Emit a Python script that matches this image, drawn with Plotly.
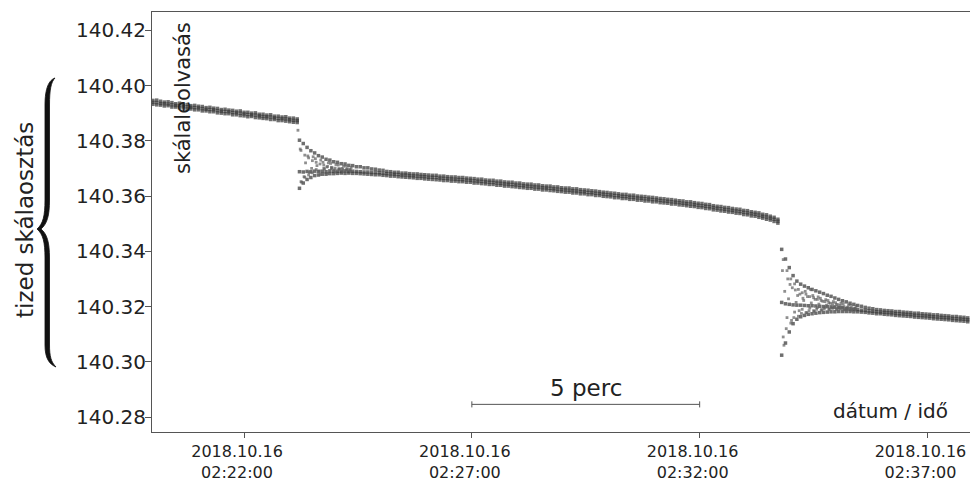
import plotly.graph_objects as go
import pandas as pd

# ---------------- data ----------------
seg1_start = "2018-10-16 02:20:00"
seg1_hi = [140.3946, 140.3947, 140.3943, 140.3940, 140.3941, 140.3938, 140.3934, 140.3936, 140.3932, 140.3931,
           140.3927, 140.3928, 140.3925, 140.3924, 140.3920, 140.3921, 140.3918, 140.3917, 140.3913, 140.3914,
           140.3911, 140.3910, 140.3907, 140.3908, 140.3903, 140.3903, 140.3900, 140.3901, 140.3896, 140.3896,
           140.3893, 140.3894, 140.3889, 140.3889, 140.3886, 140.3887, 140.3882, 140.3882, 140.3879]
seg1_mid = [140.3939, 140.3938, 140.3935, 140.3934, 140.3933, 140.3930, 140.3928, 140.3927, 140.3926, 140.3923,
            140.3921, 140.3920, 140.3919, 140.3916, 140.3914, 140.3913, 140.3912, 140.3909, 140.3907, 140.3906,
            140.3905, 140.3902, 140.3901, 140.3900, 140.3897, 140.3895, 140.3894, 140.3893, 140.3890, 140.3888,
            140.3887, 140.3886, 140.3883, 140.3881, 140.3880, 140.3879, 140.3876, 140.3874, 140.3873]
seg1_lo = [140.3932, 140.3930, 140.3929, 140.3926, 140.3927, 140.3922, 140.3922, 140.3919, 140.3919, 140.3915,
           140.3915, 140.3912, 140.3912, 140.3908, 140.3908, 140.3905, 140.3905, 140.3901, 140.3900, 140.3898,
           140.3898, 140.3894, 140.3894, 140.3891, 140.3890, 140.3887, 140.3888, 140.3884, 140.3883, 140.3881,
           140.3880, 140.3877, 140.3877, 140.3873, 140.3873, 140.3871, 140.3869, 140.3867, 140.3866]

seg2_start = "2018-10-16 02:23:13"
seg2_hi = [140.3802, 140.3790, 140.3776, 140.3764, 140.3756, 140.3746, 140.3741, 140.3733, 140.3730, 140.3724,
           140.3722, 140.3717, 140.3716, 140.3711, 140.3710, 140.3706, 140.3706, 140.3702, 140.3702, 140.3698,
           140.3697, 140.3694, 140.3693, 140.3689, 140.3688, 140.3686, 140.3686, 140.3683, 140.3683, 140.3681,
           140.3680, 140.3680, 140.3678, 140.3677, 140.3676, 140.3675, 140.3675, 140.3672, 140.3672, 140.3670,
           140.3669, 140.3669, 140.3667, 140.3667, 140.3665, 140.3664, 140.3663, 140.3661, 140.3661, 140.3658,
           140.3657, 140.3657, 140.3654, 140.3654, 140.3651, 140.3650, 140.3650, 140.3647, 140.3647, 140.3644,
           140.3643, 140.3643, 140.3640, 140.3640, 140.3637, 140.3636, 140.3636, 140.3633, 140.3633, 140.3630,
           140.3629, 140.3629, 140.3626, 140.3626, 140.3623, 140.3622, 140.3621, 140.3619, 140.3618, 140.3616,
           140.3614, 140.3613, 140.3611, 140.3610, 140.3608, 140.3606, 140.3606, 140.3603, 140.3603, 140.3600,
           140.3599, 140.3598, 140.3596, 140.3595, 140.3593, 140.3591, 140.3590, 140.3588, 140.3587, 140.3585,
           140.3583, 140.3582, 140.3579, 140.3579, 140.3576, 140.3574, 140.3573, 140.3570, 140.3569, 140.3565,
           140.3563, 140.3562, 140.3559, 140.3558, 140.3555, 140.3553, 140.3552, 140.3548, 140.3547, 140.3543,
           140.3541, 140.3539, 140.3534, 140.3532, 140.3527, 140.3523, 140.3516]
seg2_mid = [140.3688, 140.3687, 140.3689, 140.3688, 140.3690, 140.3689, 140.3690, 140.3688, 140.3691, 140.3690,
            140.3690, 140.3689, 140.3691, 140.3689, 140.3690, 140.3689, 140.3688, 140.3687, 140.3687, 140.3685,
            140.3685, 140.3684, 140.3682, 140.3681, 140.3680, 140.3679, 140.3678, 140.3676, 140.3676, 140.3674,
            140.3673, 140.3672, 140.3671, 140.3670, 140.3668, 140.3668, 140.3667, 140.3665, 140.3664, 140.3663,
            140.3662, 140.3661, 140.3660, 140.3659, 140.3658, 140.3657, 140.3655, 140.3654, 140.3653, 140.3651,
            140.3650, 140.3649, 140.3647, 140.3646, 140.3644, 140.3643, 140.3642, 140.3640, 140.3639, 140.3637,
            140.3636, 140.3635, 140.3633, 140.3632, 140.3630, 140.3629, 140.3628, 140.3626, 140.3625, 140.3623,
            140.3622, 140.3621, 140.3619, 140.3618, 140.3616, 140.3615, 140.3613, 140.3612, 140.3610, 140.3609,
            140.3607, 140.3605, 140.3604, 140.3602, 140.3601, 140.3599, 140.3598, 140.3596, 140.3595, 140.3593,
            140.3592, 140.3590, 140.3589, 140.3587, 140.3586, 140.3584, 140.3582, 140.3581, 140.3579, 140.3578,
            140.3576, 140.3574, 140.3572, 140.3571, 140.3569, 140.3567, 140.3565, 140.3563, 140.3561, 140.3558,
            140.3556, 140.3554, 140.3552, 140.3550, 140.3548, 140.3546, 140.3544, 140.3541, 140.3539, 140.3536,
            140.3534, 140.3531, 140.3527, 140.3524, 140.3520, 140.3516, 140.3509]
seg2_lo = [140.3628, 140.3647, 140.3660, 140.3667, 140.3674, 140.3676, 140.3679, 140.3679, 140.3681, 140.3681,
           140.3682, 140.3683, 140.3682, 140.3683, 140.3682, 140.3682, 140.3681, 140.3680, 140.3679, 140.3678,
           140.3677, 140.3677, 140.3675, 140.3674, 140.3672, 140.3672, 140.3670, 140.3669, 140.3668, 140.3667,
           140.3666, 140.3664, 140.3664, 140.3662, 140.3661, 140.3660, 140.3659, 140.3658, 140.3656, 140.3656,
           140.3654, 140.3654, 140.3652, 140.3652, 140.3650, 140.3650, 140.3647, 140.3647, 140.3645, 140.3644,
           140.3642, 140.3642, 140.3639, 140.3639, 140.3636, 140.3636, 140.3634, 140.3633, 140.3631, 140.3630,
           140.3628, 140.3628, 140.3625, 140.3625, 140.3622, 140.3622, 140.3620, 140.3619, 140.3617, 140.3616,
           140.3614, 140.3614, 140.3611, 140.3611, 140.3608, 140.3608, 140.3605, 140.3605, 140.3602, 140.3602,
           140.3599, 140.3598, 140.3597, 140.3594, 140.3594, 140.3591, 140.3591, 140.3588, 140.3588, 140.3585,
           140.3585, 140.3582, 140.3582, 140.3579, 140.3579, 140.3576, 140.3575, 140.3574, 140.3571, 140.3571,
           140.3568, 140.3567, 140.3565, 140.3563, 140.3562, 140.3559, 140.3558, 140.3555, 140.3554, 140.3550,
           140.3549, 140.3546, 140.3545, 140.3542, 140.3541, 140.3538, 140.3537, 140.3533, 140.3532, 140.3528,
           140.3527, 140.3523, 140.3520, 140.3516, 140.3513, 140.3508, 140.3502]

seg2_extra_start = "2018-10-16 02:23:15"
seg2_um = [140.3765, 140.3748, 140.3738, 140.3728, 140.3722, 140.3716, 140.3712,
           140.3707, 140.3704, 140.3701, 140.3699, 140.3697, 140.3695, 140.3694]
seg2_lm = [140.3652, 140.3668, 140.3676, 140.3684, 140.3696, 140.3678, 140.3700,
           140.3682, 140.3699, 140.3686, 140.3697, 140.3688, 140.3695, 140.3690]
seg2_x1_start = "2018-10-16 02:23:14"
seg2_x1 = [140.3770, 140.3670, 140.3745, 140.3700, 140.3735, 140.3690, 140.3722,
           140.3705, 140.3718, 140.3694, 140.3712, 140.3700, 140.3708, 140.3696]
seg2_x2_start = "2018-10-16 02:23:16"
seg2_x2 = [140.3650, 140.3720, 140.3685, 140.3742, 140.3710, 140.3730, 140.3698,
           140.3720, 140.3702, 140.3714, 140.3697, 140.3708, 140.3699, 140.3703]

jump_times = ["2018-10-16 02:23:11"]
jump_vals = [140.3838]

seg3_start = "2018-10-16 02:33:48"
seg3_hi = [140.3407, 140.3372, 140.3341, 140.3312, 140.3292, 140.3281, 140.3274, 140.3268, 140.3262, 140.3257,
           140.3252, 140.3247, 140.3241, 140.3237, 140.3231, 140.3226, 140.3221, 140.3217, 140.3212, 140.3208,
           140.3204, 140.3201, 140.3197, 140.3194, 140.3192, 140.3189, 140.3188, 140.3186, 140.3185, 140.3184,
           140.3182, 140.3182, 140.3180, 140.3179, 140.3178, 140.3176, 140.3176, 140.3174, 140.3173, 140.3172,
           140.3170, 140.3170, 140.3168, 140.3167, 140.3166, 140.3164, 140.3164, 140.3162, 140.3161, 140.3159]
seg3_mid = [140.3215, 140.3210, 140.3208, 140.3206, 140.3205, 140.3205, 140.3204, 140.3203, 140.3203, 140.3202,
            140.3201, 140.3200, 140.3200, 140.3199, 140.3197, 140.3196, 140.3195, 140.3193, 140.3192, 140.3190,
            140.3189, 140.3187, 140.3186, 140.3184, 140.3183, 140.3181, 140.3180, 140.3179, 140.3178, 140.3177,
            140.3175, 140.3174, 140.3173, 140.3172, 140.3171, 140.3169, 140.3168, 140.3167, 140.3166, 140.3165,
            140.3163, 140.3162, 140.3161, 140.3160, 140.3159, 140.3157, 140.3156, 140.3155, 140.3154, 140.3152]
seg3_lo = [140.3024, 140.3068, 140.3108, 140.3138, 140.3154, 140.3163, 140.3168, 140.3172, 140.3174, 140.3176,
           140.3178, 140.3179, 140.3180, 140.3181, 140.3181, 140.3182, 140.3182, 140.3182, 140.3182, 140.3181,
           140.3181, 140.3180, 140.3179, 140.3177, 140.3176, 140.3174, 140.3174, 140.3172, 140.3171, 140.3170,
           140.3168, 140.3167, 140.3166, 140.3165, 140.3164, 140.3162, 140.3161, 140.3160, 140.3159, 140.3158,
           140.3156, 140.3155, 140.3154, 140.3153, 140.3152, 140.3150, 140.3149, 140.3148, 140.3147, 140.3145]

seg3_extra_start = "2018-10-16 02:33:50"
seg3_um = [140.3370, 140.3330, 140.3300, 140.3282, 140.3262, 140.3250, 140.3245, 140.3236, 140.3232, 140.3226,
           140.3222, 140.3218, 140.3214, 140.3210, 140.3207, 140.3204, 140.3200, 140.3198, 140.3196, 140.3193]
seg3_lm = [140.3090, 140.3160, 140.3140, 140.3180, 140.3165, 140.3190, 140.3178, 140.3195, 140.3185, 140.3196,
           140.3188, 140.3197, 140.3190, 140.3194, 140.3189, 140.3192, 140.3188, 140.3190, 140.3186, 140.3187]
seg3_scatter_start = "2018-10-16 02:33:52"
seg3_sc = [140.3255, 140.3228, 140.3268, 140.3215, 140.3245, 140.3222, 140.3236, 140.3213,
           140.3226, 140.3209, 140.3219, 140.3205, 140.3212, 140.3201, 140.3207, 140.3198]
seg3_x1_start = "2018-10-16 02:33:49"
seg3_x1 = [140.3330, 140.3120, 140.3280, 140.3160, 140.3240, 140.3175, 140.3255, 140.3185, 140.3240, 140.3190,
           140.3230, 140.3192, 140.3222, 140.3195, 140.3214, 140.3196, 140.3210, 140.3195, 140.3205, 140.3194]
seg3_x2_start = "2018-10-16 02:33:51"
seg3_x2 = [140.3060, 140.3300, 140.3150, 140.3260, 140.3185, 140.3230, 140.3178, 140.3262, 140.3183, 140.3235,
           140.3188, 140.3225, 140.3191, 140.3218, 140.3193, 140.3212, 140.3190, 140.3206, 140.3189, 140.3202]

sample_step = "5s"

x_tick_times = ["2018-10-16 02:22:00", "2018-10-16 02:27:00", "2018-10-16 02:32:00", "2018-10-16 02:37:00"]
x_tick_text = ["2018.10.16<br>02:22:00", "2018.10.16<br>02:27:00", "2018.10.16<br>02:32:00", "2018.10.16<br>02:37:00"]
y_tick_vals = [140.28, 140.30, 140.32, 140.34, 140.36, 140.38, 140.40, 140.42]
y_tick_text = ["140.28", "140.30", "140.32", "140.34", "140.36", "140.38", "140.40", "140.42"]

scale_bar_start = "2018-10-16 02:27:00"
scale_bar_end = "2018-10-16 02:32:00"
scale_bar_mid = "2018-10-16 02:29:30"
scale_bar_level = 140.2846

# ---------------- figure ----------------
# the page body has an 8 px margin, so the figure is 8 px smaller than the window
OFF = 8
W, H = 978 - OFF, 486 - OFF
# plot area in window pixels
PL, PR, PT, PB = 152, 971, 12, 432
ML, MR, MT, MB = PL - OFF, W - (PR - OFF), PT - OFF, H - (PB - OFF)
PW, PH = PR - PL, PB - PT

FONT = "DejaVu Sans, Liberation Sans, Arial, sans-serif"
INK = "#222222"
AXC = "#555555"

fig = go.Figure()


def add_strand(start, values, size=3.5, color="rgba(55,55,55,0.72)"):
    t = pd.date_range(start, periods=len(values), freq=sample_step)
    fig.add_trace(go.Scatter(x=t, y=values, mode="markers",
                             marker=dict(symbol="square", size=size, color=color, line=dict(width=0)),
                             hoverinfo="skip", showlegend=False))


for start, vals in [(seg1_start, seg1_hi), (seg1_start, seg1_mid), (seg1_start, seg1_lo),
                    (seg2_start, seg2_hi), (seg2_start, seg2_mid), (seg2_start, seg2_lo),
                    (seg3_start, seg3_hi), (seg3_start, seg3_mid), (seg3_start, seg3_lo)]:
    add_strand(start, vals)

for start, vals in [(seg2_extra_start, seg2_um), (seg2_extra_start, seg2_lm),
                    (seg2_x1_start, seg2_x1), (seg2_x2_start, seg2_x2),
                    (seg3_extra_start, seg3_um), (seg3_extra_start, seg3_lm),
                    (seg3_scatter_start, seg3_sc), (seg3_x1_start, seg3_x1), (seg3_x2_start, seg3_x2)]:
    add_strand(start, vals, size=2.8, color="rgba(95,95,95,0.7)")

fig.add_trace(go.Scatter(x=pd.to_datetime(jump_times), y=jump_vals, mode="markers",
                         marker=dict(symbol="square", size=2.8, color="rgba(95,95,95,0.7)"),
                         hoverinfo="skip", showlegend=False))

# scale bar "5 perc"
fig.add_shape(type="line", xref="x", yref="y", x0=scale_bar_start, x1=scale_bar_end,
              y0=scale_bar_level, y1=scale_bar_level, line=dict(color=AXC, width=1))
for xe in (scale_bar_start, scale_bar_end):
    fig.add_shape(type="line", xref="x", yref="y", x0=xe, x1=xe,
                  y0=scale_bar_level - 0.0011, y1=scale_bar_level + 0.0011, line=dict(color=AXC, width=1))
fig.add_annotation(x=scale_bar_mid, y=scale_bar_level, xref="x", yref="y", text="5 perc",
                   showarrow=False, xanchor="center", yanchor="bottom", yshift=1,
                   font=dict(size=23, color=INK, family=FONT))


def px(xp, yp):
    """window pixel -> paper fraction"""
    return (xp - PL) / PW, (PB - yp) / PH


fx, fy = px(183, 98)
fig.add_annotation(x=fx, y=fy, xref="paper", yref="paper", text="skálaleolvasás", textangle=-90,
                   showarrow=False, xanchor="center", yanchor="middle",
                   font=dict(size=21, color=INK, family=FONT))
fx, fy = px(950, 411)
fig.add_annotation(x=fx, y=fy, xref="paper", yref="paper", text="dátum / idő",
                   showarrow=False, xanchor="right", yanchor="middle",
                   font=dict(size=20, color=INK, family=FONT))
fx, fy = px(25, 220)
fig.add_annotation(x=fx, y=fy, xref="paper", yref="paper", text="tized skálaosztás", textangle=-90,
                   showarrow=False, xanchor="center", yanchor="middle",
                   font=dict(size=23, color=INK, family=FONT))

# curly brace (decoration), drawn as a filled path in window pixels
brace_px = [("M", [(55, 78)]),
            ("C", [(49, 80), (45, 88), (45, 105)]),
            ("L", [(45, 200)]),
            ("C", [(45, 216), (43, 224), (37, 229)]),
            ("C", [(43, 234), (45, 242), (45, 258)]),
            ("L", [(45, 345)]),
            ("C", [(45, 358), (49, 364), (56, 367)]),
            ("C", [(51, 362), (49.5, 356), (49.5, 345)]),
            ("L", [(49.5, 258)]),
            ("C", [(49.5, 242), (47, 234), (41, 229)]),
            ("C", [(47, 224), (49.5, 216), (49.5, 200)]),
            ("L", [(49.5, 105)]),
            ("C", [(49.5, 90), (51, 82), (55, 78)])]
parts = []
for cmd, pts in brace_px:
    parts.append(cmd + " " + " ".join("%.5f,%.5f" % px(a, b) for a, b in pts))
path = " ".join(parts) + " Z"
fig.add_shape(type="path", xref="paper", yref="paper", path=path,
              fillcolor="#111111", line=dict(color="#111111", width=0.8))

axis_common = dict(showline=True, linecolor=AXC, linewidth=1, mirror=True, showgrid=False,
                   zeroline=False, ticks="outside", tickcolor=AXC, tickwidth=1, automargin=False,
                   ticklabeloverflow="allow")
fig.update_xaxes(type="date", range=["2018-10-16 02:19:58.8", "2018-10-16 02:37:57.3"],
                 tickmode="array", tickvals=x_tick_times, ticktext=x_tick_text, ticklen=5,
                 ticklabelshift=-7,
                 tickfont=dict(size=16, color=INK, family=FONT), **axis_common)
fig.update_yaxes(range=[140.2746, 140.4266], tickmode="array", tickvals=y_tick_vals,
                 ticktext=y_tick_text, ticklen=6, ticklabelstandoff=-5,
                 tickfont=dict(size=20, color=INK, family=FONT), **axis_common)

fig.update_layout(width=W, height=H, margin=dict(l=ML, r=MR, t=MT, b=MB, pad=0),
                  paper_bgcolor="white", plot_bgcolor="white", showlegend=False,
                  font=dict(family=FONT, color=INK))

fig.write_html("out.html")
